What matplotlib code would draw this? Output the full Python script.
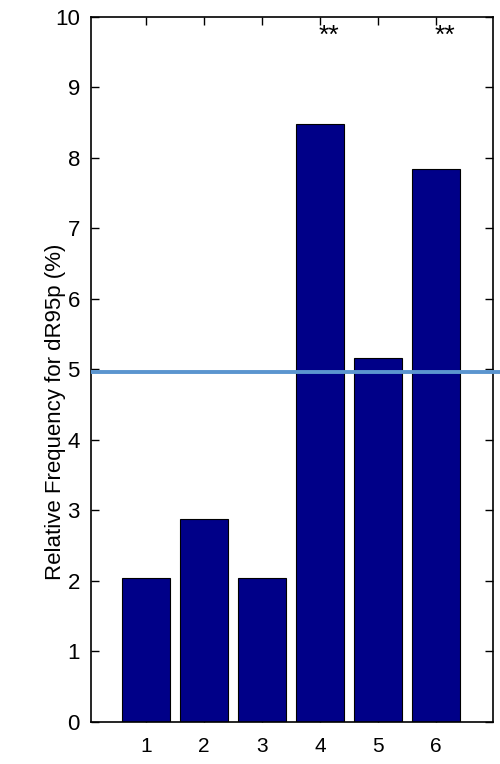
import numpy as np
import matplotlib
matplotlib.use('Agg')
import matplotlib.pyplot as plt

plt.rcParams['font.family'] = ['Liberation Sans', 'DejaVu Sans']

categories = [1, 2, 3, 4, 5, 6]
freq = [2.04, 2.88, 2.04, 8.48, 5.16, 7.84]
signif = ['', '', '', '**', '', '**']
threshold = 4.97

fig = plt.figure(figsize=(5, 7.64), dpi=100)
ax = fig.add_axes([0.182, 0.055, 0.804, 0.923])

ax.bar(categories, freq, 0.82, color='#000088', edgecolor='black', linewidth=0.8, zorder=2)

for x, s in zip(categories, signif):
    if s:
        ax.text(x - 0.03, 9.9, s, ha='left', va='top', fontsize=19)

# reference line at 5, running out past the right edge
ax.plot([0.05, 7.2], [threshold, threshold], color='#5b95cf', linewidth=2.8,
        solid_capstyle='butt', clip_on=False, zorder=3)

ax.set_xlim(0.05, 6.98)
ax.set_ylim(0, 10)
ax.set_xticks(categories)
ax.set_yticks(np.arange(0, 11, 1))
ax.tick_params(direction='in', top=True, right=True, length=6, width=1)
ax.tick_params(axis='x', labelsize=15, pad=11)
ax.tick_params(axis='y', labelsize=16, pad=8)
for sp in ax.spines.values():
    sp.set_linewidth(1.2)
ax.set_ylabel('Relative Frequency for dR95p (%)', fontsize=16)
ax.yaxis.set_label_coords(-0.062, 0.44)

fig.savefig('out.png', dpi=100)
